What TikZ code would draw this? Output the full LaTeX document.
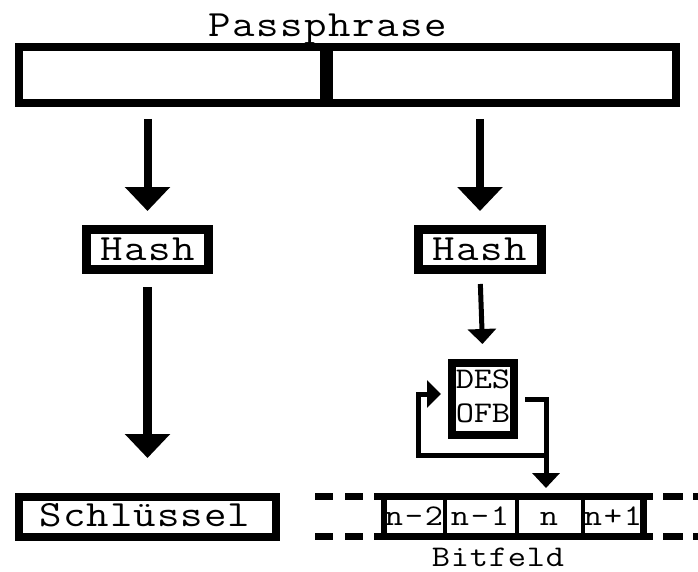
\documentclass[tikz,border=0pt]{standalone}
\usepackage{graphicx}
\usetikzlibrary{arrows.meta}
\makeatletter
% typewriter text, slightly widened, with a fixed advance per character
\newcommand\spacedtext[2]{\@tfor\spt@c:=#2\do{\makebox[#1][c]{\scalebox{1.18}[1]{\spt@c}}}}
\makeatother
\tikzset{
  boxed/.style={draw, line width=#1, inner sep=0pt, rectangle},
  bigtext/.style={font=\ttfamily\fontsize{37}{40}\selectfont, inner sep=0pt, anchor=base},
  smalltext/.style={font=\ttfamily\fontsize{30}{32}\selectfont, inner sep=0pt, anchor=base},
  bigarrow/.style={line width=9pt, -{Triangle[width=44pt,length=24pt]}},
  smallarrow/.style={line width=5pt, -{Triangle[width=28pt,length=15pt]}},
  bitline/.style={line width=7pt},
}
\begin{document}
\begin{tikzpicture}[x=1pt, y=-1pt]
\useasboundingbox (0,0) rectangle (698,572);

% passphrase split into two halves
\node[bigtext] (pp) at (328,37) {\spacedtext{24pt}{Passphrase}};
\node[boxed=8pt, minimum width=305pt, minimum height=56pt] (pL) at (171.5,75) {};
\node[boxed=8pt, minimum width=347pt, minimum height=56pt] (pR) at (502.5,75) {};

% hash boxes
\node[boxed=9pt, minimum width=122pt, minimum height=40pt] (hL) at (147.5,249.5) {};
\node[bigtext] (hLt) at (148,260) {\spacedtext{24pt}{Hash}};
\node[boxed=9pt, minimum width=123pt, minimum height=40pt] (hR) at (480,249.5) {};
\node[bigtext] (hRt) at (480,260) {\spacedtext{24pt}{Hash}};

% key box
\node[boxed=8pt, minimum width=257pt, minimum height=40pt] (sk) at (147.5,517) {};
\node[bigtext] (skt) at (145,526) {\spacedtext{23.5pt}{Schlüssel}};

% DES in OFB mode
\node[boxed=8pt, minimum width=62pt, minimum height=72pt] (des) at (483,399) {};
\node[smalltext] (desa) at (483,388) {\spacedtext{18pt}{DES}};
\node[smalltext] (desb) at (483,422) {\spacedtext{18pt}{OFB}};

% bit field
\draw[bitline] (374,496.5) -- (653,496.5);
\draw[bitline] (374,536.5) -- (653,536.5);
\foreach \a/\b in {315/333, 345/363, 663/683, 693/699} {
  \draw[bitline] (\a,496.5) -- (\b,496.5);
  \draw[bitline] (\a,536.5) -- (\b,536.5);
}
\draw[line width=6pt] (384,496.5) -- (384,536.5);
\draw[line width=4pt] (445,496.5) -- (445,536.5);
\draw[line width=4pt] (516.5,496.5) -- (516.5,536.5);
\draw[line width=4pt] (583,496.5) -- (583,536.5);
\draw[line width=7pt] (643.5,496.5) -- (643.5,536.5);
\node[smalltext] (c1) at (414,525) {\spacedtext{20pt}{n-2}};
\node[smalltext] (c2) at (480,525) {\spacedtext{20pt}{n-1}};
\node[smalltext] (c3) at (549,525) {\spacedtext{20pt}{n}};
\node[smalltext] (c4) at (613,525) {\spacedtext{20pt}{n+1}};
\node[smalltext] (bf) at (498,566) {\spacedtext{19pt}{Bitfeld}};

\coordinate (into) at (546,488);
\coordinate (split) at (546,455);
\coordinate (fb) at (418,394);

% connectors
\draw[bigarrow, line width=8pt, shorten <=12pt, shorten >=14pt] (pL.south -| hL.north) -- (hL.north);
\draw[bigarrow, line width=8pt, shorten <=12pt, shorten >=14pt] (pR.south -| hR.north) -- (hR.north);
\draw[bigarrow, shorten <=13pt, shorten >=35pt] (hL.south) -- (sk.north);
\draw[smallarrow, shorten <=10pt, shorten >=15pt] (hR.south) -- (des.north);
\draw[line width=5pt, -{Triangle[width=27pt,length=15pt]}, shorten <=7pt] (des.east) -| (into);
\draw[line width=5pt, -{Triangle[width=27pt,length=14pt]}, shorten >=7pt] (split) -| (fb) -- (fb -| des.west);
\end{tikzpicture}
\end{document}
